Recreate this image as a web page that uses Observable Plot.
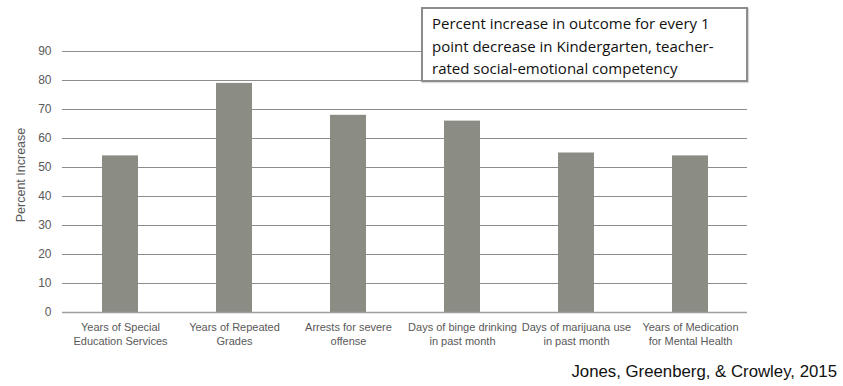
<!DOCTYPE html>
<html>
<head>
<meta charset="utf-8">
<script src="https://cdn.jsdelivr.net/npm/d3@7"></script>
<script src="https://cdn.jsdelivr.net/npm/@observablehq/plot@0.6"></script>
<style>
  html, body { margin: 0; padding: 0; background: #fff; }
  #wrap { position: relative; width: 843px; height: 386px; }
  #note {
    position: absolute; left: 421px; top: 7px; width: 327px; height: 75px;
    box-sizing: border-box; background: #fff; border: 2px solid #8c8c8c;
    box-shadow: 1px 1px 1px rgba(0,0,0,0.15);
    font-family: "Open Sans", sans-serif; font-size: 15px; line-height: 22.5px;
    color: #111; padding: 3px 0 0 9px; white-space: pre-line;
  }
  #source {
    position: absolute; right: 6px; top: 362px;
    font-family: "Liberation Sans", Arial, sans-serif; font-size: 16.8px; color: #111;
  }
</style>
</head>
<body>
<div id="wrap"></div>
<script>
const outcomes = [
  "Years of Special\nEducation Services",
  "Years of Repeated\nGrades",
  "Arrests for severe\noffense",
  "Days of binge drinking\nin past month",
  "Days of marijuana use\nin past month",
  "Years of Medication\nfor Mental Health"
];
const percentIncrease = [54, 79, 68, 66, 55, 54];
const yTicks = [0, 10, 20, 30, 40, 50, 60, 70, 80, 90];
const noteLines = [
  "Percent increase in outcome for every 1",
  "point decrease in Kindergarten, teacher-",
  "rated social-emotional competency"
];
const sourceText = "Jones, Greenberg, & Crowley, 2015";

const rows = outcomes.map((o, i) => ({outcome: o, value: percentIncrease[i]}));

const chart = Plot.plot({
  width: 843,
  height: 386,
  marginLeft: 62,
  marginRight: 96,
  marginTop: 51,
  marginBottom: 74,
  style: {fontFamily: "Liberation Sans, Arial, sans-serif", fontSize: "11px", color: "#595959", background: "#fff"},
  x: {domain: outcomes, paddingInner: 0.685, paddingOuter: 0.3425, label: null},
  y: {domain: [0, 90], label: null},
  marks: [
    Plot.gridY(yTicks, {stroke: "#8c8c8c", strokeOpacity: 1, strokeWidth: 1}),
    Plot.barY(rows, {x: "outcome", y: "value", fill: "#8b8c84"}),
    Plot.ruleY([0], {stroke: "#a0a0a0", strokeWidth: 1.5}),
    Plot.axisY(yTicks, {tickSize: 0, tickPadding: 11, fill: "#595959", fontSize: 12, label: null}),
    Plot.axisX({tickSize: 0, tickPadding: 9, lineHeight: 1.27, fill: "#595959", fontSize: 11, label: null}),
    // rotated y-axis title, centred on the plot's vertical middle
    Plot.text(["Percent Increase"], {frameAnchor: "left", textAnchor: "middle", dx: -42, dy: -7, rotate: -90, fill: "#595959", fontSize: 12.5})
  ]
});

const wrap = document.getElementById("wrap");
wrap.appendChild(chart);

const note = document.createElement("div");
note.id = "note";
note.textContent = noteLines.join("\n");
wrap.appendChild(note);

const src = document.createElement("div");
src.id = "source";
src.textContent = sourceText;
wrap.appendChild(src);
</script>
</body>
</html>
